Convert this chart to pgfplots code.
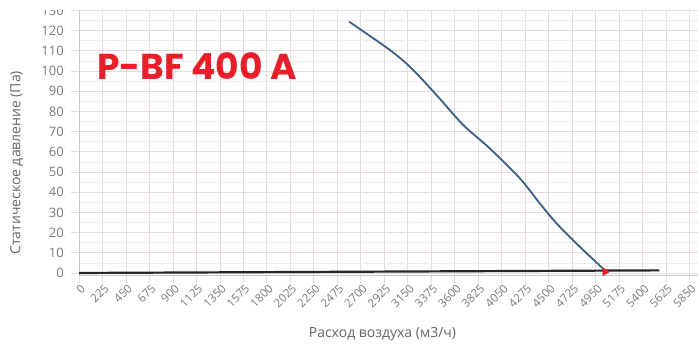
\documentclass[border=0pt]{standalone}
\usepackage{fontspec}
\setmainfont{Open Sans}
\newfontfamily\titlefont{Poppins}[UprightFont=* Bold]
\usepackage{pgfplots}
\pgfplotsset{compat=1.18}
\definecolor{gridc}{RGB}{230,218,218}
\definecolor{gridm}{RGB}{242,234,234}
\definecolor{curvec}{RGB}{58,94,136}
\definecolor{titlered}{RGB}{232,30,40}
\definecolor{labgray}{RGB}{120,120,120}
\definecolor{axgray}{RGB}{190,200,215}
\begin{document}
\begin{tikzpicture}
\begin{axis}[
  at={(79pt,71pt)}, anchor=south west,
  scale only axis,
  width=619pt, height=264.6pt,
  xmin=0, xmax=5930, ymin=-1, ymax=130,
  xtick={0,225,...,5850},
  ytick={0,10,...,130},
  minor ytick={5,15,...,125},
  grid=both,
  major grid style={gridc, line width=0.8pt},
  minor grid style={gridm, line width=0.6pt},
  axis line style={axgray, line width=1pt},
  axis x line*=bottom, axis y line*=left,
  tick align=outside,
  major tick length=8pt, minor tick length=0pt,
  tick style={gridc, line width=0.8pt},
  x tick label style={rotate=45, anchor=north east, font=\fontsize{11.5}{11.5}\selectfont, text=labgray, inner sep=1pt, yshift=0pt, xshift=1.5pt},
  y tick label style={font=\fontsize{13}{13}\selectfont, text=labgray, inner sep=1pt, xshift=-6pt},
  /pgf/number format/assume math mode=true,
  /pgf/number format/1000 sep={},
  xlabel={Расход воздуха (м3/ч)},
  ylabel={Статическое давление (Па)},
  xlabel style={font=\fontsize{14}{14}\selectfont, text=labgray!85!black, yshift=-14pt, xshift=-6pt},
  ylabel style={font=\fontsize{14}{14}\selectfont, text=labgray!85!black, yshift=14pt, xshift=-20pt},
  clip=false,
]
\addplot[color=black!85, line width=2.2pt] coordinates {(0,0) (5560,1.3)};
\addplot[color=curvec, line width=1.8pt, smooth] coordinates {
(2588,124.4) (2978,110.4) (3186,101.3) (3425,88.1) (3680,73.3) (3935,61.7) (4223,46.9) (4414,34.5) (4574,24.6) (4797,13.0) (5053,0.6)};
\addplot[only marks, mark=triangle*, mark size=4.5pt, color=titlered, mark options={rotate=-90}] coordinates {(5040,0.6)};
\end{axis}
\fill[white] (0pt,336pt) rectangle (698pt,346pt);
\node[anchor=base west, inner sep=0pt, text=titlered, font=\titlefont\fontsize{36}{36}\selectfont] at (97pt,266pt) {P-BF 400 A};
\pgfresetboundingbox
\path[use as bounding box] (0pt,0pt) rectangle (698pt,346pt);
\end{tikzpicture}
\end{document}
